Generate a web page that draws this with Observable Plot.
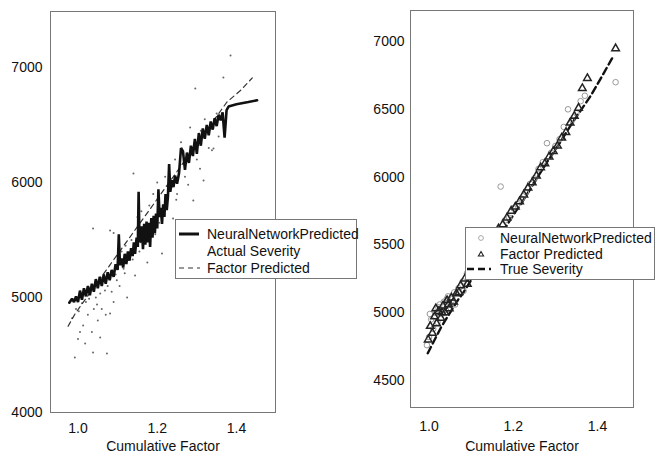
<!DOCTYPE html>
<html>
<head>
<meta charset="utf-8">
<script src="https://cdn.jsdelivr.net/npm/d3@7"></script>
<script src="https://cdn.jsdelivr.net/npm/@observablehq/plot@0.6"></script>
<style>
  html, body { margin: 0; padding: 0; background: #fff; }
  #wrap { position: relative; width: 661px; height: 457px; overflow: hidden; background: #fff;
          font-family: "Liberation Sans", Arial, sans-serif; }
  #wrap svg { position: absolute; left: 0; top: 0; }
  .legend { position: absolute; background: #fff; border: 1px solid #777; box-sizing: border-box; }
  .legend .row { position: absolute; left: 0; height: 16px; width: 100%; }
  .legend .row span { position: absolute; font-size: 14px; color: #111; line-height: 16px; top: 0; white-space: nowrap; }
  .legend .row svg { position: absolute; left: 0; top: 0; }
</style>
</head>
<body>
<div id="wrap"></div>
<script>
// ---------- Left panel data ----------
const leftXTicks = [1.0, 1.2, 1.4];
const leftYTicks = [4000, 5000, 6000, 7000];

// NeuralNetworkPredicted (thick zig-zag line)
const nnX = [0.978,0.985,0.99,0.995,1.0,1.005,1.01,1.015,1.02,1.025,1.03,1.035,1.04,1.045,1.05,1.055,1.06,1.065,1.07,1.075,1.08,1.085,1.09,1.095,1.10,1.103,1.106,1.11,1.114,1.118,1.122,1.126,1.13,1.134,1.138,1.141,1.144,1.148,1.151,1.153,1.155,1.158,1.161,1.164,1.167,1.170,1.173,1.176,1.179,1.182,1.185,1.188,1.191,1.194,1.197,1.200,1.203,1.206,1.209,1.212,1.215,1.218,1.221,1.224,1.227,1.230,1.233,1.237,1.241,1.245,1.25,1.255,1.26,1.265,1.27,1.275,1.28,1.285,1.29,1.295,1.30,1.305,1.31,1.315,1.32,1.325,1.33,1.335,1.34,1.345,1.35,1.355,1.36,1.365,1.37,1.375,1.38,1.40,1.43,1.452];
const nnY = [4955,4990,4960,5010,4960,5060,4980,5080,5010,5100,5020,5120,5050,5160,5080,5180,5100,5200,5120,5220,5150,5240,5180,5290,5240,5550,5280,5340,5260,5380,5290,5400,5320,5430,5360,5480,5380,5520,5440,5920,5560,5480,5620,5420,5640,5460,5660,5480,5650,5440,5690,5520,5710,5560,5730,5600,5940,5700,5780,5640,5810,5700,5900,5760,5880,6160,5920,6020,5960,6060,5990,6080,6300,6270,6110,6260,6170,6320,6230,6380,6250,6430,6320,6470,6380,6500,6410,6530,6460,6560,6490,6590,6540,6610,6390,6630,6660,6680,6700,6715];

// Actual Severity (small scattered specks)
const asX = [0.985,0.992,0.995,1.0,1.005,1.01,1.013,1.018,1.02,1.025,1.03,1.035,1.038,1.04,1.045,1.05,1.056,1.056,1.06,1.065,1.07,1.073,1.075,1.081,1.081,1.085,1.09,1.095,1.10,1.105,1.11,1.115,1.12,1.124,1.13,1.135,1.14,1.144,1.15,1.155,1.16,1.165,1.175,1.18,1.19,1.195,1.20,1.205,1.212,1.22,1.225,1.23,1.24,1.245,1.25,1.26,1.27,1.283,1.291,1.296,1.30,1.31,1.317,1.32,1.33,1.342,1.35,1.355,1.367,1.385,1.038,1.09,1.002,1.028,1.048,1.068,1.098,1.118,1.138,1.158,1.188,1.218,1.248,1.278,1.308,1.338];
const asY = [4820,4478,4900,4640,4700,4950,4757,4600,4960,4850,5080,4700,4522,4900,5000,4800,4652,5035,4900,5200,4850,4513,5100,4861,5583,5050,4960,5200,5300,5100,5400,5250,5450,5000,5350,5500,6078,5191,5700,5400,5750,5500,5304,5800,5900,5550,6000,5650,5383,6050,5800,6100,5687,6200,5900,6350,6050,6478,5843,6817,6200,6450,6017,6550,6300,6296,6600,6400,6913,7104,5600,5560,4880,4990,4940,5060,5150,5210,5330,5480,5600,5720,5850,5980,6120,6280];

// Factor Predicted (thin dashed line)
const fpX = [0.975,0.993,1.03,1.08,1.13,1.18,1.23,1.28,1.33,1.376,1.41,1.44];
const fpY = [4750,4860,5040,5280,5520,5760,6000,6240,6480,6700,6800,6910];

// ---------- Right panel data ----------
const rightXTicks = [1.0, 1.2, 1.4];
const rightYTicks = [4500, 5000, 5500, 6000, 6500, 7000];

// True Severity (thick dashed line)
const tsX = [0.997,1.01,1.02,1.03,1.04,1.05,1.06,1.07,1.08,1.09,1.10,1.12,1.14,1.16,1.18,1.20,1.22,1.24,1.26,1.28,1.30,1.32,1.34,1.36,1.384,1.41,1.439];
const tsY = [4700,4780,4840,4900,4950,5000,5050,5100,5140,5190,5240,5330,5420,5520,5620,5720,5810,5910,6010,6110,6200,6300,6400,6490,6600,6740,6900];

// NeuralNetworkPredicted (open circles)
const ncX = [0.995,1.0,1.005,1.01,1.015,1.02,1.025,1.03,1.035,1.04,1.045,1.05,1.055,1.06,1.07,1.08,1.09,1.10,1.12,1.14,1.16,1.17,1.18,1.19,1.20,1.21,1.22,1.23,1.24,1.25,1.26,1.27,1.28,1.29,1.30,1.31,1.32,1.33,1.34,1.35,1.36,1.37,1.443,1.002,1.022,1.042,1.062,1.082];
const ncY = [4760,4820,4950,4880,5000,4930,5060,4990,5080,5020,5120,5060,5110,5150,5180,5230,5290,5340,5420,5480,5600,5930,5680,5700,5770,5800,5840,5890,5950,5990,6060,6110,6250,6180,6230,6280,6370,6500,6420,6470,6560,6600,6700,4990,5040,5100,5060,5160];

// Factor Predicted (open triangles)
const ftX = [0.998,1.003,1.008,1.013,1.018,1.023,1.028,1.033,1.038,1.043,1.048,1.053,1.058,1.065,1.075,1.085,1.095,1.105,1.13,1.15,1.165,1.175,1.185,1.195,1.205,1.215,1.225,1.235,1.245,1.255,1.265,1.275,1.285,1.295,1.305,1.315,1.325,1.335,1.345,1.355,1.364,1.376,1.443,1.016,1.031,1.046,1.071,1.091];
const ftY = [4800,4900,4850,4970,4920,5010,4960,5050,5000,5090,5030,5110,5080,5140,5200,5250,5300,5350,5460,5560,5620,5650,5700,5750,5780,5820,5870,5920,5960,6010,6070,6100,6150,6190,6230,6290,6330,6400,6450,6510,6655,6729,6949,5030,5000,5060,5150,5210];

const xLabel = "Cumulative Factor";
const leftLegend = ["NeuralNetworkPredicted", "Actual Severity", "Factor Predicted"];
const rightLegend = ["NeuralNetworkPredicted", "Factor Predicted", "True Severity"];

// ---------- build ----------
const pts = (xs, ys) => xs.map((x, i) => ({x, y: ys[i]}));
const font = "'Liberation Sans', Arial, sans-serif";
const W = 661, H = 457;
const baseStyle = {background: "transparent", fontFamily: font, fontSize: "14px", color: "#111", overflow: "visible"};

const left = Plot.plot({
  width: W, height: H,
  marginLeft: 50, marginRight: W - 275, marginTop: 11, marginBottom: H - 412,
  x: {domain: [0.9306, 1.4985]},
  y: {domain: [4000, 7487]},
  style: baseStyle,
  marks: [
    Plot.frame({stroke: "#777", strokeWidth: 1}),
    Plot.dot(pts(asX, asY), {x: "x", y: "y", r: 1, fill: "#666", stroke: "none"}),
    Plot.line(pts(fpX, fpY), {x: "x", y: "y", stroke: "#333", strokeWidth: 1.2, strokeDasharray: "5,4"}),
    Plot.line(pts(nnX, nnY), {x: "x", y: "y", stroke: "#111", strokeWidth: 2.6, strokeLinejoin: "miter"}),
    Plot.axisX({ticks: leftXTicks, tickSize: 0, tickPadding: 11, tickFormat: d => d.toFixed(1), label: null, fontSize: 14}),
    Plot.axisY({ticks: leftYTicks, tickSize: 0, tickPadding: 8, tickFormat: d => String(d), label: null, fontSize: 14}),
    Plot.text([xLabel], {frameAnchor: "bottom", lineAnchor: "middle", dy: 34, text: d => d, fontSize: 14, fill: "#111"})
  ]
});

const right = Plot.plot({
  width: W, height: H,
  marginLeft: 410, marginRight: W - 633, marginTop: 10, marginBottom: H - 407,
  x: {domain: [0.956, 1.4855]},
  y: {domain: [4300, 7229]},
  style: baseStyle,
  marks: [
    Plot.frame({stroke: "#777", strokeWidth: 1}),
    Plot.line(pts(tsX, tsY), {x: "x", y: "y", stroke: "#111", strokeWidth: 2.4, strokeDasharray: "7,4"}),
    Plot.dot(pts(ncX, ncY), {x: "x", y: "y", r: 2.8, stroke: "#999", fill: "none", strokeWidth: 1}),
    Plot.dot(pts(ftX, ftY), {x: "x", y: "y", r: 2.8, symbol: "triangle", stroke: "#222", fill: "none", strokeWidth: 1.5}),
    Plot.axisX({ticks: rightXTicks, tickSize: 0, tickPadding: 14, tickFormat: d => d.toFixed(1), label: null, fontSize: 14}),
    Plot.axisY({ticks: rightYTicks, tickSize: 0, tickPadding: 6, tickFormat: d => String(d), label: null, fontSize: 14}),
    Plot.text([xLabel], {frameAnchor: "bottom", lineAnchor: "middle", dy: 39, text: d => d, fontSize: 14, fill: "#111"})
  ]
});

const wrap = document.getElementById("wrap");
wrap.appendChild(left);
wrap.appendChild(right);

function makeLegend(box, rows) {
  const d = document.createElement("div");
  d.className = "legend";
  Object.assign(d.style, {left: box.left + "px", top: box.top + "px", width: box.width + "px", height: box.height + "px"});
  rows.forEach(r => {
    const row = document.createElement("div");
    row.className = "row";
    row.style.top = (r.cy - 8) + "px";
    row.innerHTML = `<svg width="32" height="16">${r.sample}</svg><span style="left:${box.textLeft}px">${r.label}</span>`;
    d.appendChild(row);
  });
  wrap.appendChild(d);
}

makeLegend({left: 175, top: 219, width: 182, height: 60, textLeft: 31}, [
  {cy: 14, label: leftLegend[0], sample: `<line x1="3" x2="23" y1="8" y2="8" stroke="#111" stroke-width="3"/>`},
  {cy: 31, label: leftLegend[1], sample: ``},
  {cy: 48, label: leftLegend[2], sample: `<line x1="3" x2="24" y1="8" y2="8" stroke="#333" stroke-width="1.2" stroke-dasharray="5,4"/>`}
]);

makeLegend({left: 465, top: 227, width: 190, height: 53, textLeft: 34}, [
  {cy: 10, label: rightLegend[0], sample: `<circle cx="15" cy="8" r="2.4" fill="none" stroke="#aaa"/>`},
  {cy: 26, label: rightLegend[1], sample: `<path d="M15,5.5 L17.6,10 L12.4,10 Z" fill="none" stroke="#222" stroke-width="1.1"/>`},
  {cy: 41, label: rightLegend[2], sample: `<line x1="1" x2="25" y1="8" y2="8" stroke="#111" stroke-width="2.4" stroke-dasharray="7,4"/>`}
]);
</script>
</body>
</html>
